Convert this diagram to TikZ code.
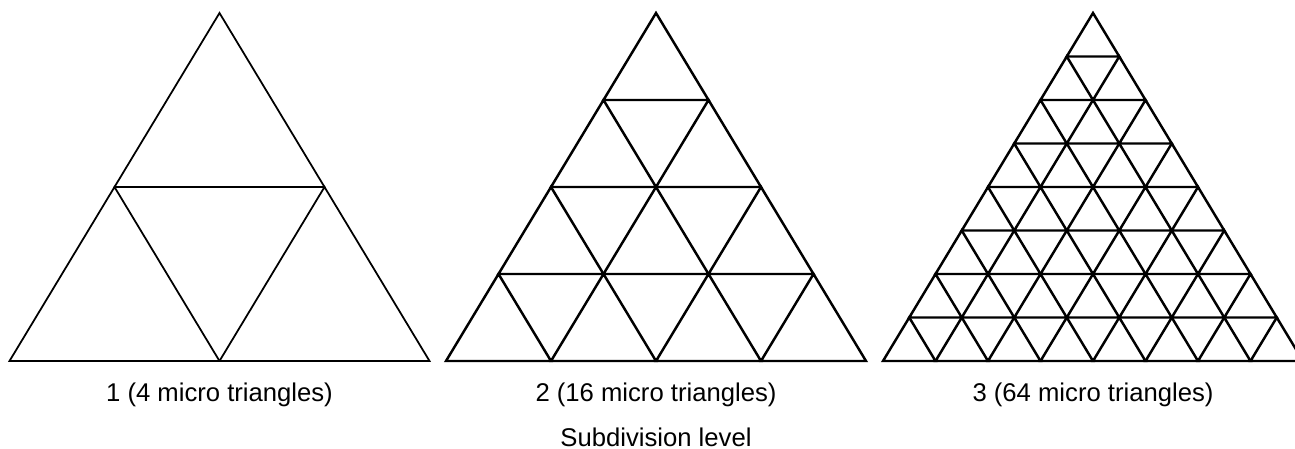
\documentclass[tikz,border=0pt]{standalone}
\usepackage{fontspec}
\setmainfont{Liberation Sans}
\usetikzlibrary{positioning}
\tikzset{
  mesh/.style={draw=black, line width=1.1pt, line join=miter},
  lvllabel/.style={font=\fontsize{14.6}{17}\selectfont, text=black, inner sep=0pt}
}

\begin{document}
\begin{tikzpicture}[x=0.02cm, y=-0.02cm]
  \useasboundingbox (0,0) rectangle (1295,449);

  % triangles: apex x / divisions / level / count / pen
  \foreach \ax/\n/\lvl/\cnt/\pen in {219.5/2/1/4/1.0, 656/4/2/16/1.4, 1093/8/3/64/1.4} {
    \pgfmathsetmacro\dw{420/\n}
    \pgfmathsetmacro\dh{348/\n}
    \pgfmathtruncatemacro\last{\n-1}
    \foreach \r in {0,...,\last} {
      \foreach \c in {0,...,\r} {
        \pgfmathsetmacro\tx{\ax + (\c - \r/2)*\dw}
        \pgfmathsetmacro\ty{13 + \r*\dh}
        \draw[mesh, line width=\pen pt] (\tx,\ty) -- ++(-\dw/2,\dh) -- ++(\dw,0) -- cycle;
      }
    }
    \node[lvllabel] (lab\lvl) at (\ax,395) {\lvl{} (\cnt{} micro triangles)};
  }

  % axis caption
  \node[lvllabel] (caption) at (656,437) {Subdivision level};
\end{tikzpicture}
\end{document}
